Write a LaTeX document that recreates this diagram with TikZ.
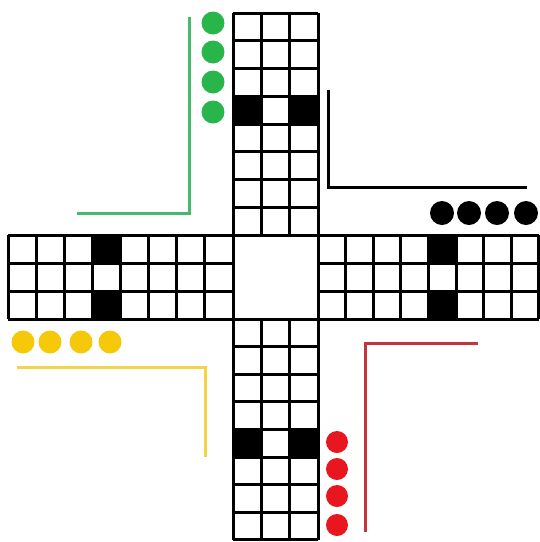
\documentclass[tikz,border=0pt]{standalone}
\usetikzlibrary{calc}
\definecolor{gcirc}{RGB}{40,182,74}
\definecolor{gline}{RGB}{70,185,110}
\definecolor{ycirc}{RGB}{246,200,10}
\definecolor{yline}{RGB}{243,212,70}
\definecolor{rcirc}{RGB}{232,22,30}
\definecolor{rline}{RGB}{196,52,60}
\tikzset{
  grid/.style={line width=3pt, black},
  blackcell/.style={fill=black, rounded corners=1.5pt},
  gpiece/.style={fill=gcirc},
  bpiece/.style={fill=black},
  ypiece/.style={fill=ycirc},
  rpiece/.style={fill=rcirc},
  guide/.style={line width=3pt},
}
\begin{document}
\begin{tikzpicture}[x=1pt,y=-1pt]
\useasboundingbox (0,0) rectangle (540,542);
\fill[white] (0,0) rectangle (540,542);
% black cells
\fill[blackcell] (233,96.25) rectangle (261.33,124);
\fill[blackcell] (289.67,96.25) rectangle (318,124);
\fill[blackcell] (233,430) rectangle (261.33,457.75);
\fill[blackcell] (289.67,430) rectangle (318,457.75);
\fill[blackcell] (92.4,235) rectangle (120.5,263);
\fill[blackcell] (92.4,291) rectangle (120.5,319);
\fill[blackcell] (429,235) rectangle (456.75,263);
\fill[blackcell] (429,291) rectangle (456.75,319);
% top arm grid
\foreach \i in {0,...,8} \draw[grid] (233,13+\i*27.75) -- (318,13+\i*27.75);
\foreach \x in {233,261.33,289.67,318} \draw[grid] (\x,13) -- (\x,235);
% bottom arm grid
\foreach \i in {0,...,8} \draw[grid] (233,319+\i*27.6) -- (318,319+\i*27.6);
\foreach \x in {233,261.33,289.67,318} \draw[grid] (\x,319) -- (\x,540);
% left arm grid
\foreach \y in {235,263,291,319} \draw[grid] (8,\y) -- (233,\y);
\foreach \i in {0,...,8} \draw[grid] (8+\i*28.125,235) -- (8+\i*28.125,319);
% right arm grid
\foreach \y in {235,263,291,319} \draw[grid] (318,\y) -- (539,\y);
\foreach \i in {0,...,8} \draw[grid] (318+\i*27.6,235) -- (318+\i*27.6,319);
% green
\foreach \y in {23,52,82,112} \fill[gpiece] (213,\y) circle (11.5);
\draw[guide, gline] (189,17) -- (189,213) -- (77,213);
% black
\foreach \x in {442,469,497,526} \fill[bpiece] (\x,213) circle (12);
\draw[guide, black] (328,90) -- (328,187) -- (527,187);
% yellow
\foreach \x in {23,50,81,110} \fill[ypiece] (\x,342) circle (11.5);
\draw[guide, yline] (17,367) -- (205,367) -- (205,457);
% red
\foreach \y in {442,469,496,525} \fill[rpiece] (337,\y) circle (11);
\draw[guide, rline] (478,343) -- (365,343) -- (365,532);
\end{tikzpicture}
\end{document}
